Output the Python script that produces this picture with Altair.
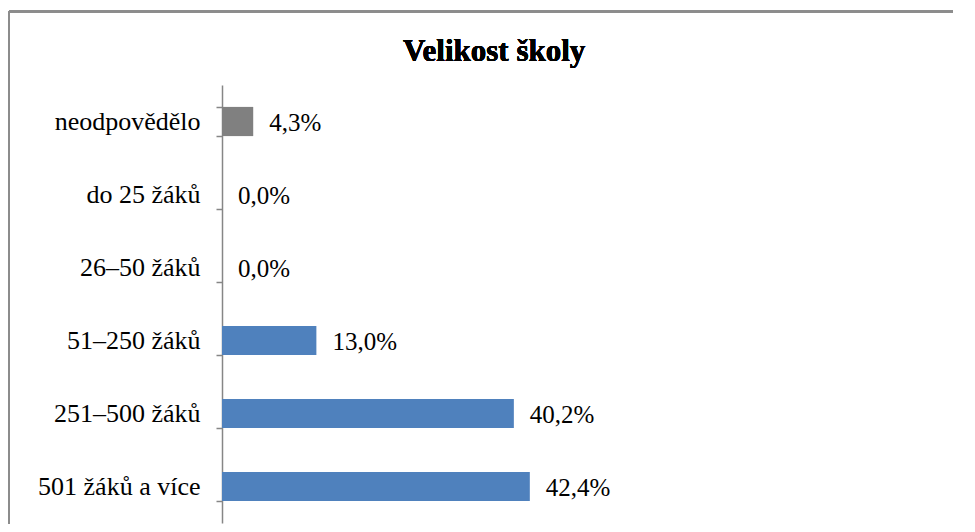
import altair as alt
import pandas as pd

categories = ["neodpovědělo", "do 25 žáků", "26–50 žáků", "51–250 žáků", "251–500 žáků", "501 žáků a více"]
values = [4.3, 0.0, 0.0, 13.0, 40.2, 42.4]
bar_colors = ["#808080", "#4F81BD", "#4F81BD", "#4F81BD", "#4F81BD", "#4F81BD"]
title_text = "Velikost školy"

df = pd.DataFrame({
    "kategorie": categories,
    "hodnota": values,
    "barva": bar_colors,
    "popisek": [f"{v:.1f}".replace(".", ",") + "%" for v in values],
})

FONT = "Liberation Serif, Times New Roman, DejaVu Serif, serif"

y_enc = alt.Y(
    "kategorie:N",
    sort=categories,
    title=None,
    scale=alt.Scale(paddingInner=0.6, paddingOuter=0.3),
    axis=alt.Axis(
        tickBand="extent",
        domainColor="#868686",
        domainWidth=1.5,
        tickColor="#868686",
        tickWidth=1.5,
        tickSize=6,
        labelPadding=16,
        labelFont=FONT,
        labelFontSize=26,
        labelColor="#000000",
        labelLimit=400,
    ),
)
x_scale = alt.Scale(domain=[0, 100], nice=False)

base = alt.Chart(df)

bars = base.mark_bar().encode(
    y=y_enc,
    x=alt.X("hodnota:Q", scale=x_scale, axis=None),
    color=alt.Color("barva:N", scale=None),
)

labels = base.mark_text(
    align="left", baseline="middle", dx=16, dy=1, font=FONT, fontSize=25, color="#000000"
).encode(
    y=alt.Y("kategorie:N", sort=categories),
    x=alt.X("hodnota:Q", scale=x_scale),
    text="popisek:N",
)

title_mark = alt.Chart(df).mark_text(
    align="left", baseline="alphabetic", font=FONT, fontSize=31, fontWeight="bold", color="#000000"
).encode(
    x=alt.value(181), y=alt.value(-24), text=alt.value(title_text)
)

border_top = alt.Chart(df).mark_rule(color="#8c8c8c", strokeWidth=2).encode(
    x=alt.value(-213), x2=alt.value(760), y=alt.value(-73.5)
)
border_left = alt.Chart(df).mark_rule(color="#8c8c8c", strokeWidth=2).encode(
    x=alt.value(-213), y=alt.value(-73.5), y2=alt.value(460)
)

chart = alt.layer(border_top, border_left, title_mark, bars, labels).properties(
    width=726,
    height=438,
    autosize=alt.AutoSizeParams(type="none"),
    padding={"left": 214, "top": 77, "right": 5, "bottom": 1},
).configure(background="#ffffff").configure_view(stroke=None)

chart.save("out.html", embed_options={"renderer": "svg", "actions": False})
